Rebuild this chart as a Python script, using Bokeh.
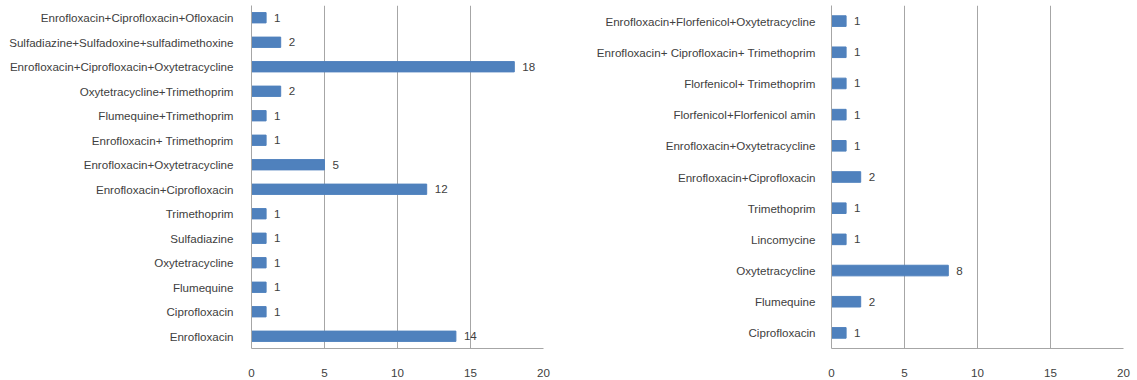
from bokeh.plotting import figure
from bokeh.layouts import row
from bokeh.models import ColumnDataSource, Range1d, FixedTicker
from bokeh.embed import file_html
from bokeh.resources import INLINE

# Left chart data (bottom to top)
left_categories = [
    "Enrofloxacin", "Ciprofloxacin", "Flumequine", "Oxytetracycline", "Sulfadiazine",
    "Trimethoprim", "Enrofloxacin+Ciprofloxacin", "Enrofloxacin+Oxytetracycline",
    "Enrofloxacin+ Trimethoprim", "Flumequine+Trimethoprim", "Oxytetracycline+Trimethoprim",
    "Enrofloxacin+Ciprofloxacin+Oxytetracycline", "Sulfadiazine+Sulfadoxine+sulfadimethoxine",
    "Enrofloxacin+Ciprofloxacin+Ofloxacin",
]
left_values = [14, 1, 1, 1, 1, 1, 12, 5, 1, 1, 2, 18, 2, 1]

# Right chart data (bottom to top)
right_categories = [
    "Ciprofloxacin", "Flumequine", "Oxytetracycline", "Lincomycine", "Trimethoprim",
    "Enrofloxacin+Ciprofloxacin", "Enrofloxacin+Oxytetracycline",
    "Florfenicol+Florfenicol amin", "Florfenicol+ Trimethoprim",
    "Enrofloxacin+ Ciprofloxacin+ Trimethoprim", "Enrofloxacin+Florfenicol+Oxytetracycline",
]
right_values = [1, 2, 8, 1, 1, 2, 1, 1, 1, 1, 1]

x_ticks = [0, 5, 10, 15, 20]

FONT = "Liberation Sans"
FS = "11.6px"
BAR = "#4F81BD"
GRID = "#A6A6A6"
TXT = "#404040"


def make_chart(cats, vals, width, border_left, border_right, bar_h, standoff):
    src = ColumnDataSource(dict(cat=cats, val=vals, lab=[str(v) for v in vals]))
    p = figure(width=width, height=380, y_range=cats, x_range=Range1d(0, 20),
               output_backend="svg", toolbar_location=None,
               min_border_left=border_left, min_border_right=border_right,
               min_border_top=5, min_border_bottom=32)
    p.hbar(y="cat", right="val", left=0, height=bar_h, source=src,
           fill_color=BAR, line_color=BAR)
    p.text(x="val", y="cat", text="lab", source=src, x_offset=8,
           text_align="left", text_baseline="middle", text_font_size=FS,
           text_color=TXT, text_font={"value": FONT})
    p.outline_line_color = None
    p.background_fill_color = "white"
    p.border_fill_color = "white"
    p.ygrid.grid_line_color = None
    p.xgrid.grid_line_color = GRID
    p.xaxis.ticker = FixedTicker(ticks=x_ticks)
    p.xaxis.axis_line_color = GRID
    p.xaxis.major_tick_line_color = None
    p.xaxis.minor_tick_line_color = None
    p.xaxis.major_label_standoff = 14
    p.xaxis.major_label_text_font = FONT
    p.xaxis.major_label_text_font_size = FS
    p.xaxis.major_label_text_color = TXT
    p.yaxis.axis_line_color = GRID
    p.yaxis.major_tick_line_color = None
    p.yaxis.minor_tick_line_color = None
    p.yaxis.major_label_standoff = standoff
    p.yaxis.major_label_text_font = FONT
    p.yaxis.major_label_text_font_size = FS
    p.yaxis.major_label_text_color = TXT
    return p


p1 = make_chart(left_categories, left_values, 568, 251, 25, 0.42, 12)
p2 = make_chart(right_categories, right_values, 569, 263, 14, 0.34, 10)

layout = row(p1, p2)
open("out.html", "w").write(file_html(layout, INLINE))
